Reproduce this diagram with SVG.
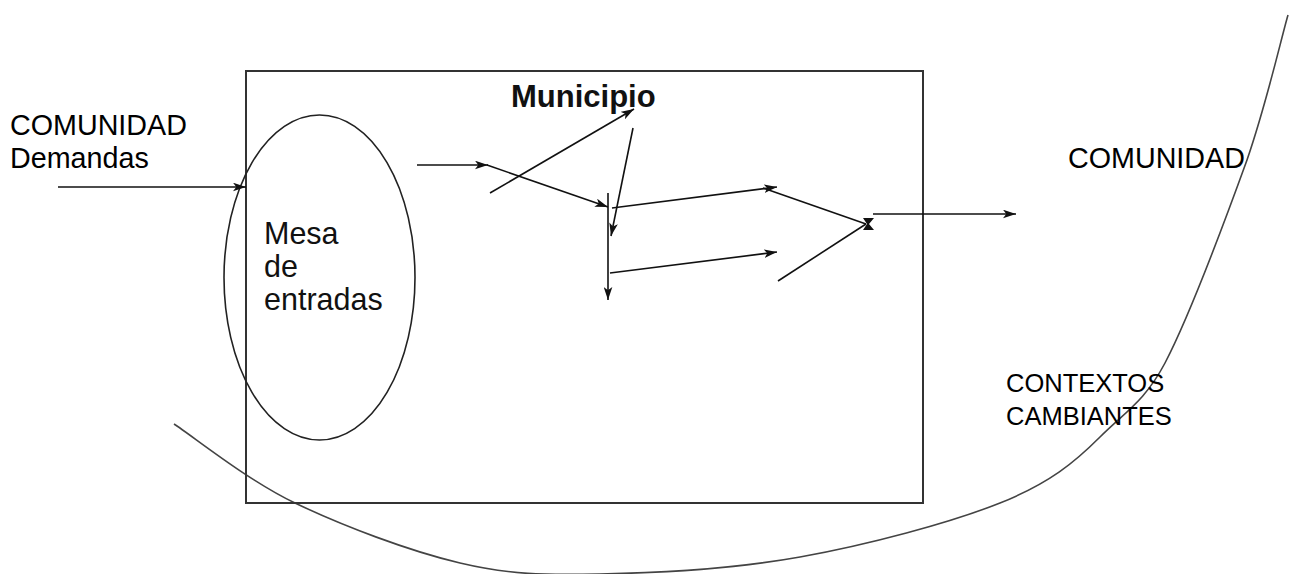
<svg xmlns="http://www.w3.org/2000/svg" width="1297" height="574" viewBox="0 0 1297 574">
<style>
  text { font-family: "Liberation Sans", Arial, sans-serif; fill: #000; }
  .lbl { font-size: 28.7px; }
  .mesa { font-size: 30.5px; fill: #111; }
  .ctx { font-size: 25.5px; }
  .title { font-size: 31px; font-weight: bold; fill: #111; }
  .box { fill: none; stroke: #333; stroke-width: 2; }
  .ell { fill: none; stroke: #222; stroke-width: 1.6; }
  .curve { fill: none; stroke: #444; stroke-width: 1.6; }
  .conn { fill: none; stroke: #111; stroke-width: 1.6; }
  .arr { marker-end: url(#ah); }
</style>
<defs>
  <marker id="ah" viewBox="0 0 12 8" refX="12" refY="4" markerWidth="13" markerHeight="9" markerUnits="userSpaceOnUse" orient="auto">
    <path d="M0,0 L12,4 L0,8 L3,4 Z" fill="#111"/>
  </marker>
</defs>
<rect width="1297" height="574" fill="#fff"/>

<g id="contexto-curve">
  <path class="curve" d="M174,424 C194,437 247,480 295,503 C343,526 409,551 460,563 C511,575 543,575 600,574 C657,573 733,569 800,557 C867,545 950,523 1000,503 C1050,483 1075,462 1100,437 C1125,412 1145,401 1165,363 C1189,317 1226,218 1247,160 C1267,102 1281,39 1288,15"/>
</g>

<g id="municipio">
  <rect class="box" x="246" y="71" width="677" height="432"/>
  <text class="title" x="511" y="107">Municipio</text>
</g>

<g id="mesa-de-entradas">
  <ellipse class="ell" cx="319.5" cy="277.5" rx="95.5" ry="162.5"/>
  <text class="mesa" x="264" y="244">Mesa</text>
  <text class="mesa" x="264" y="277">de</text>
  <text class="mesa" x="264" y="310">entradas</text>
</g>

<g id="comunidad-demandas">
  <text class="lbl" x="10" y="135">COMUNIDAD</text>
  <text class="lbl" x="10" y="168">Demandas</text>
</g>

<g id="comunidad-salida">
  <text class="lbl" x="1068" y="168">COMUNIDAD</text>
</g>

<g id="contextos-cambiantes">
  <text class="ctx" x="1006" y="392">CONTEXTOS</text>
  <text class="ctx" x="1006" y="425">CAMBIANTES</text>
</g>

<g id="connectors">
  <line class="conn arr" x1="58" y1="187" x2="246" y2="187"/>
  <line class="conn arr" x1="417" y1="165" x2="488" y2="165"/>
  <line class="conn arr" x1="487" y1="165" x2="608" y2="207"/>
  <line class="conn arr" x1="490" y1="193" x2="634" y2="109"/>
  <line class="conn arr" x1="633" y1="128" x2="611" y2="236"/>
  <line class="conn arr" x1="608" y1="193" x2="608" y2="300"/>
  <line class="conn arr" x1="612" y1="208" x2="777" y2="187"/>
  <line class="conn arr" x1="610" y1="273" x2="777" y2="252"/>
  <line class="conn" x1="763" y1="188" x2="866" y2="224"/>
  <line class="conn" x1="778" y1="281" x2="866" y2="224"/>
  <path d="M863,218 L874,218 L869,224 L874,230 L863,230 L867,224 Z" fill="#111"/>
  <line class="conn arr" x1="873" y1="214" x2="1016" y2="214"/>
</g>
</svg>
